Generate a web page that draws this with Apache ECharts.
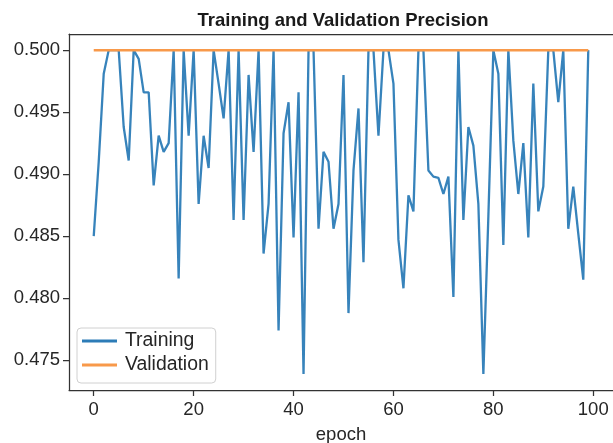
<!DOCTYPE html>
<html>
<head>
<meta charset="utf-8">
<script src="https://cdn.jsdelivr.net/npm/echarts@6/dist/echarts.min.js"></script>
<style>
  html, body { margin: 0; padding: 0; background: #fff; }
  #chart { width: 613px; height: 443px; }
</style>
</head>
<body>
<div id="chart"></div>
<script>
// epochs 0..99
const epochs = Array.from({ length: 100 }, (_, i) => i);

// 训练精度
const training = [
  0.4850, 0.4910, 0.4981, 0.5000, 0.5000, 0.5000, 0.4938, 0.4911, 0.5000, 0.4993,
  0.4966, 0.4966, 0.4891, 0.4931, 0.4918, 0.4925, 0.5000, 0.4816, 0.5000, 0.4931,
  0.5000, 0.4876, 0.4931, 0.4905, 0.5000, 0.4973, 0.4945, 0.5000, 0.4863, 0.5000,
  0.4863, 0.4980, 0.4918, 0.5000, 0.4836, 0.4876, 0.5000, 0.4774, 0.4933, 0.4958,
  0.4849, 0.4966, 0.4739, 0.5000, 0.5000, 0.4856, 0.4918, 0.4910, 0.4856, 0.4876,
  0.4980, 0.4788, 0.4903, 0.4953, 0.4829, 0.5000, 0.5000, 0.4931, 0.5000, 0.5000,
  0.4973, 0.4847, 0.4808, 0.4883, 0.4870, 0.5000, 0.5000, 0.4903, 0.4898, 0.4897,
  0.4884, 0.4898, 0.4801, 0.5000, 0.4863, 0.4938, 0.4923, 0.4876, 0.4739, 0.4866,
  0.5000, 0.4981, 0.4843, 0.5000, 0.4927, 0.4884, 0.4925, 0.4849, 0.4973, 0.4870,
  0.4890, 0.5000, 0.5000, 0.4958, 0.5000, 0.4856, 0.4890, 0.4852, 0.4815, 0.5000
];

// 验证精度：一直是 0.5
const validation = [
  0.5, 0.5, 0.5, 0.5, 0.5, 0.5, 0.5, 0.5, 0.5, 0.5,
  0.5, 0.5, 0.5, 0.5, 0.5, 0.5, 0.5, 0.5, 0.5, 0.5,
  0.5, 0.5, 0.5, 0.5, 0.5, 0.5, 0.5, 0.5, 0.5, 0.5,
  0.5, 0.5, 0.5, 0.5, 0.5, 0.5, 0.5, 0.5, 0.5, 0.5,
  0.5, 0.5, 0.5, 0.5, 0.5, 0.5, 0.5, 0.5, 0.5, 0.5,
  0.5, 0.5, 0.5, 0.5, 0.5, 0.5, 0.5, 0.5, 0.5, 0.5,
  0.5, 0.5, 0.5, 0.5, 0.5, 0.5, 0.5, 0.5, 0.5, 0.5,
  0.5, 0.5, 0.5, 0.5, 0.5, 0.5, 0.5, 0.5, 0.5, 0.5,
  0.5, 0.5, 0.5, 0.5, 0.5, 0.5, 0.5, 0.5, 0.5, 0.5,
  0.5, 0.5, 0.5, 0.5, 0.5, 0.5, 0.5, 0.5, 0.5, 0.5
];

const xTicks = [0, 20, 40, 60, 80, 100];
const yTicks = [0.475, 0.480, 0.485, 0.490, 0.495, 0.500];

const FONT = '"Liberation Sans", Arial, sans-serif';
const INK = '#262626';
const SPINE = '#333333';

const chart = echarts.init(document.getElementById('chart'), null, { renderer: 'canvas' });

const option = {
  animation: false,
  backgroundColor: '#ffffff',
  textStyle: { fontFamily: FONT },
  title: {
    text: 'Training and Validation Precision',
    left: 338,
    top: 6,
    textAlign: 'center',
    textStyle: { fontFamily: FONT, fontSize: 18.5, fontWeight: 'bold', color: '#1a1a1a' }
  },
  grid: {
    left: 69,
    right: 0,
    top: 34,
    bottom: 53,
    containLabel: false,
    outerBoundsMode: 'none'
  },
  legend: {
    orient: 'vertical',
    left: 77,
    top: 328,
    icon: 'rect',
    itemWidth: 35,
    itemHeight: 3,
    itemGap: 4,
    padding: [3, 7, 8, 5],
    borderColor: '#d0d0d0',
    borderWidth: 1,
    borderRadius: 4,
    backgroundColor: 'rgba(255,255,255,0.8)',
    textStyle: { fontFamily: FONT, fontSize: 19.4, color: INK, lineHeight: 20, padding: [0, 0, 0, 3] },
    data: ['Training', 'Validation']
  },
  xAxis: [
    {
      type: 'value',
      min: -4.95,
      max: 103.95,
      position: 'bottom',
      name: 'epoch',
      nameLocation: 'middle',
      nameGap: 35,
      nameTextStyle: { fontFamily: FONT, fontSize: 18.5, color: INK },
      axisLine: { show: true, onZero: false, lineStyle: { color: SPINE, width: 1.25 } },
      axisTick: { show: true, inside: false, length: 6, customValues: xTicks, lineStyle: { color: SPINE, width: 1.25 } },
      axisLabel: { show: true, margin: 10, customValues: xTicks, fontFamily: FONT, fontSize: 18.5, color: INK },
      splitLine: { show: false }
    },
    {
      // 顶部边框
      type: 'value',
      min: -4.95,
      max: 103.95,
      position: 'top',
      axisLine: { show: true, onZero: false, lineStyle: { color: SPINE, width: 1.25 } },
      axisTick: { show: false },
      axisLabel: { show: false },
      splitLine: { show: false }
    }
  ],
  yAxis: {
    type: 'value',
    min: 0.4726,
    max: 0.5013,
    axisLine: { show: true, onZero: false, lineStyle: { color: SPINE, width: 1.25 } },
    axisTick: { show: true, inside: false, length: 6, customValues: yTicks, lineStyle: { color: SPINE, width: 1.25 } },
    axisLabel: {
      show: true,
      margin: 9,
      customValues: yTicks,
      fontFamily: FONT,
      fontSize: 18.5,
      color: INK,
      formatter: v => v.toFixed(3)
    },
    splitLine: { show: false }
  },
  series: [
    {
      name: 'Training',
      type: 'line',
      xAxisIndex: 0,
      data: epochs.map((e, i) => [e, training[i]]),
      symbol: 'none',
      itemStyle: { color: '#2c7cb7' },
      lineStyle: { color: '#2c7cb7', width: 2.3, opacity: 0.95 },
      z: 2
    },
    {
      name: 'Validation',
      type: 'line',
      xAxisIndex: 0,
      data: epochs.map((e, i) => [e, validation[i]]),
      symbol: 'none',
      itemStyle: { color: '#f8994a' },
      lineStyle: { color: '#f8994a', width: 2.5 },
      z: 3
    }
  ]
};

chart.setOption(option);
</script>
</body>
</html>
